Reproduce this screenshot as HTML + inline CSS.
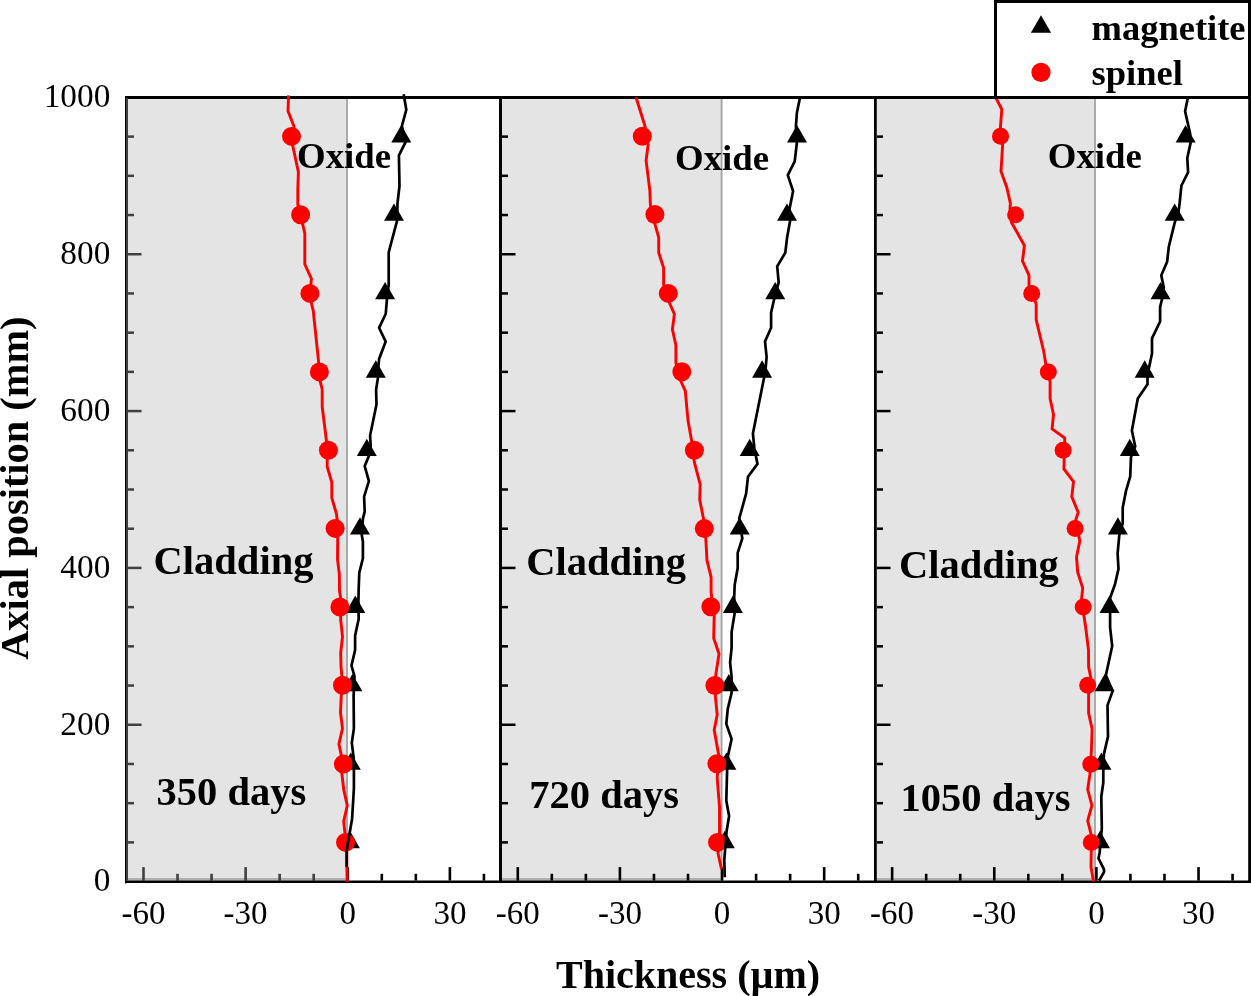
<!DOCTYPE html>
<html><head><meta charset="utf-8"><title>Chart</title>
<style>html,body{margin:0;padding:0;background:#fff;width:1251px;height:996px;overflow:hidden}
body{position:relative;font-family:"Liberation Serif",serif}</style></head>
<body>
<svg width="1251" height="996" viewBox="0 0 1251 996" style="position:absolute;left:0;top:0;will-change:transform">
<rect x="0" y="0" width="1251" height="996" fill="#fff"/>
<rect x="128.0" y="98" width="219.00" height="782.5" fill="#e4e4e4"/>
<rect x="128.0" y="878" width="219.00" height="2.6" fill="#b0b0b0"/>
<rect x="346.10" y="98" width="1.8" height="782.5" fill="#a2a2a2"/>
<rect x="502.0" y="98" width="219.60" height="782.5" fill="#e4e4e4"/>
<rect x="502.0" y="878" width="219.60" height="2.6" fill="#b0b0b0"/>
<rect x="720.70" y="98" width="1.8" height="782.5" fill="#a2a2a2"/>
<rect x="877.0" y="98" width="218.00" height="782.5" fill="#e4e4e4"/>
<rect x="877.0" y="878" width="218.00" height="2.6" fill="#b0b0b0"/>
<rect x="1094.10" y="98" width="1.8" height="782.5" fill="#a2a2a2"/>
<rect x="128.0" y="841.14" width="6.0" height="2.5" fill="#404040"/>
<rect x="128.0" y="801.93" width="6.0" height="2.5" fill="#404040"/>
<rect x="128.0" y="762.72" width="6.0" height="2.5" fill="#404040"/>
<rect x="128.0" y="723.51" width="13.5" height="2.5" fill="#404040"/>
<rect x="128.0" y="684.30" width="6.0" height="2.5" fill="#404040"/>
<rect x="128.0" y="645.09" width="6.0" height="2.5" fill="#404040"/>
<rect x="128.0" y="605.88" width="6.0" height="2.5" fill="#404040"/>
<rect x="128.0" y="566.67" width="13.5" height="2.5" fill="#404040"/>
<rect x="128.0" y="527.46" width="6.0" height="2.5" fill="#404040"/>
<rect x="128.0" y="488.25" width="6.0" height="2.5" fill="#404040"/>
<rect x="128.0" y="449.04" width="6.0" height="2.5" fill="#404040"/>
<rect x="128.0" y="409.83" width="13.5" height="2.5" fill="#404040"/>
<rect x="128.0" y="370.62" width="6.0" height="2.5" fill="#404040"/>
<rect x="128.0" y="331.41" width="6.0" height="2.5" fill="#404040"/>
<rect x="128.0" y="292.20" width="6.0" height="2.5" fill="#404040"/>
<rect x="128.0" y="252.99" width="13.5" height="2.5" fill="#404040"/>
<rect x="128.0" y="213.78" width="6.0" height="2.5" fill="#404040"/>
<rect x="128.0" y="174.57" width="6.0" height="2.5" fill="#404040"/>
<rect x="128.0" y="135.36" width="6.0" height="2.5" fill="#404040"/>
<rect x="142.19" y="867.10" width="2.6" height="13.5" fill="#404040"/>
<rect x="176.23" y="873.80" width="2.6" height="6.8" fill="#404040"/>
<rect x="210.28" y="873.80" width="2.6" height="6.8" fill="#404040"/>
<rect x="244.32" y="867.10" width="2.6" height="13.5" fill="#404040"/>
<rect x="278.36" y="873.80" width="2.6" height="6.8" fill="#404040"/>
<rect x="312.41" y="873.80" width="2.6" height="6.8" fill="#404040"/>
<rect x="346.45" y="867.10" width="2.6" height="13.5" fill="#000"/>
<rect x="380.49" y="873.80" width="2.6" height="6.8" fill="#000"/>
<rect x="414.54" y="873.80" width="2.6" height="6.8" fill="#000"/>
<rect x="448.58" y="867.10" width="2.6" height="13.5" fill="#000"/>
<rect x="482.62" y="873.80" width="2.6" height="6.8" fill="#000"/>
<rect x="502.0" y="841.14" width="6.0" height="2.5" fill="#000"/>
<rect x="502.0" y="801.93" width="6.0" height="2.5" fill="#000"/>
<rect x="502.0" y="762.72" width="6.0" height="2.5" fill="#000"/>
<rect x="502.0" y="723.51" width="13.5" height="2.5" fill="#000"/>
<rect x="502.0" y="684.30" width="6.0" height="2.5" fill="#000"/>
<rect x="502.0" y="645.09" width="6.0" height="2.5" fill="#000"/>
<rect x="502.0" y="605.88" width="6.0" height="2.5" fill="#000"/>
<rect x="502.0" y="566.67" width="13.5" height="2.5" fill="#000"/>
<rect x="502.0" y="527.46" width="6.0" height="2.5" fill="#000"/>
<rect x="502.0" y="488.25" width="6.0" height="2.5" fill="#000"/>
<rect x="502.0" y="449.04" width="6.0" height="2.5" fill="#000"/>
<rect x="502.0" y="409.83" width="13.5" height="2.5" fill="#000"/>
<rect x="502.0" y="370.62" width="6.0" height="2.5" fill="#000"/>
<rect x="502.0" y="331.41" width="6.0" height="2.5" fill="#000"/>
<rect x="502.0" y="292.20" width="6.0" height="2.5" fill="#000"/>
<rect x="502.0" y="252.99" width="13.5" height="2.5" fill="#000"/>
<rect x="502.0" y="213.78" width="6.0" height="2.5" fill="#000"/>
<rect x="502.0" y="174.57" width="6.0" height="2.5" fill="#000"/>
<rect x="502.0" y="135.36" width="6.0" height="2.5" fill="#000"/>
<rect x="516.49" y="867.10" width="2.6" height="13.5" fill="#000"/>
<rect x="550.53" y="873.80" width="2.6" height="6.8" fill="#000"/>
<rect x="584.58" y="873.80" width="2.6" height="6.8" fill="#000"/>
<rect x="618.62" y="867.10" width="2.6" height="13.5" fill="#000"/>
<rect x="652.66" y="873.80" width="2.6" height="6.8" fill="#000"/>
<rect x="686.71" y="873.80" width="2.6" height="6.8" fill="#000"/>
<rect x="720.75" y="867.10" width="2.6" height="13.5" fill="#000"/>
<rect x="754.79" y="873.80" width="2.6" height="6.8" fill="#000"/>
<rect x="788.84" y="873.80" width="2.6" height="6.8" fill="#000"/>
<rect x="822.88" y="867.10" width="2.6" height="13.5" fill="#000"/>
<rect x="856.92" y="873.80" width="2.6" height="6.8" fill="#000"/>
<rect x="877.0" y="841.14" width="6.0" height="2.5" fill="#000"/>
<rect x="877.0" y="801.93" width="6.0" height="2.5" fill="#000"/>
<rect x="877.0" y="762.72" width="6.0" height="2.5" fill="#000"/>
<rect x="877.0" y="723.51" width="13.5" height="2.5" fill="#000"/>
<rect x="877.0" y="684.30" width="6.0" height="2.5" fill="#000"/>
<rect x="877.0" y="645.09" width="6.0" height="2.5" fill="#000"/>
<rect x="877.0" y="605.88" width="6.0" height="2.5" fill="#000"/>
<rect x="877.0" y="566.67" width="13.5" height="2.5" fill="#000"/>
<rect x="877.0" y="527.46" width="6.0" height="2.5" fill="#000"/>
<rect x="877.0" y="488.25" width="6.0" height="2.5" fill="#000"/>
<rect x="877.0" y="449.04" width="6.0" height="2.5" fill="#000"/>
<rect x="877.0" y="409.83" width="13.5" height="2.5" fill="#000"/>
<rect x="877.0" y="370.62" width="6.0" height="2.5" fill="#000"/>
<rect x="877.0" y="331.41" width="6.0" height="2.5" fill="#000"/>
<rect x="877.0" y="292.20" width="6.0" height="2.5" fill="#000"/>
<rect x="877.0" y="252.99" width="13.5" height="2.5" fill="#000"/>
<rect x="877.0" y="213.78" width="6.0" height="2.5" fill="#000"/>
<rect x="877.0" y="174.57" width="6.0" height="2.5" fill="#000"/>
<rect x="877.0" y="135.36" width="6.0" height="2.5" fill="#000"/>
<rect x="890.84" y="867.10" width="2.6" height="13.5" fill="#000"/>
<rect x="924.88" y="873.80" width="2.6" height="6.8" fill="#000"/>
<rect x="958.93" y="873.80" width="2.6" height="6.8" fill="#000"/>
<rect x="992.97" y="867.10" width="2.6" height="13.5" fill="#000"/>
<rect x="1027.01" y="873.80" width="2.6" height="6.8" fill="#000"/>
<rect x="1061.06" y="873.80" width="2.6" height="6.8" fill="#000"/>
<rect x="1095.10" y="867.10" width="2.6" height="13.5" fill="#000"/>
<rect x="1129.14" y="873.80" width="2.6" height="6.8" fill="#000"/>
<rect x="1163.19" y="873.80" width="2.6" height="6.8" fill="#000"/>
<rect x="1197.23" y="867.10" width="2.6" height="13.5" fill="#000"/>
<rect x="1231.27" y="873.80" width="2.6" height="6.8" fill="#000"/>
<rect x="125" y="96" width="1126" height="3" fill="#000"/>
<rect x="125" y="880.5" width="1126" height="2.5" fill="#000"/>
<rect x="125" y="96" width="1.2" height="787.5" fill="#000"/>
<rect x="126" y="98" width="2" height="783" fill="#404040"/>
<rect x="499" y="96" width="3" height="787" fill="#000"/>
<rect x="874" y="96" width="2.8" height="787" fill="#000"/>
<rect x="1248.2" y="96" width="2.8" height="787" fill="#000"/>
<path d="M401.30,125.06L411.30,142.38L391.30,142.38Z" fill="#000"/>
<path d="M394.00,203.48L404.00,220.80L384.00,220.80Z" fill="#000"/>
<path d="M385.10,281.90L395.10,299.22L375.10,299.22Z" fill="#000"/>
<path d="M375.80,360.32L385.80,377.64L365.80,377.64Z" fill="#000"/>
<path d="M366.80,438.74L376.80,456.06L356.80,456.06Z" fill="#000"/>
<path d="M360.00,517.16L370.00,534.48L350.00,534.48Z" fill="#000"/>
<path d="M355.30,595.58L365.30,612.90L345.30,612.90Z" fill="#000"/>
<path d="M352.40,674.00L362.40,691.32L342.40,691.32Z" fill="#000"/>
<path d="M350.80,752.42L360.80,769.74L340.80,769.74Z" fill="#000"/>
<path d="M349.90,830.84L359.90,848.16L339.90,848.16Z" fill="#000"/>
<path d="M797.00,125.06L807.00,142.38L787.00,142.38Z" fill="#000"/>
<path d="M787.00,203.48L797.00,220.80L777.00,220.80Z" fill="#000"/>
<path d="M775.20,281.90L785.20,299.22L765.20,299.22Z" fill="#000"/>
<path d="M762.10,360.32L772.10,377.64L752.10,377.64Z" fill="#000"/>
<path d="M749.70,438.74L759.70,456.06L739.70,456.06Z" fill="#000"/>
<path d="M739.70,517.16L749.70,534.48L729.70,534.48Z" fill="#000"/>
<path d="M732.90,595.58L742.90,612.90L722.90,612.90Z" fill="#000"/>
<path d="M728.80,674.00L738.80,691.32L718.80,691.32Z" fill="#000"/>
<path d="M726.40,752.42L736.40,769.74L716.40,769.74Z" fill="#000"/>
<path d="M724.80,830.84L734.80,848.16L714.80,848.16Z" fill="#000"/>
<path d="M1185.60,125.06L1195.60,142.38L1175.60,142.38Z" fill="#000"/>
<path d="M1174.70,203.48L1184.70,220.80L1164.70,220.80Z" fill="#000"/>
<path d="M1160.50,281.90L1170.50,299.22L1150.50,299.22Z" fill="#000"/>
<path d="M1144.70,360.32L1154.70,377.64L1134.70,377.64Z" fill="#000"/>
<path d="M1129.80,438.74L1139.80,456.06L1119.80,456.06Z" fill="#000"/>
<path d="M1117.90,517.16L1127.90,534.48L1107.90,534.48Z" fill="#000"/>
<path d="M1109.50,595.58L1119.50,612.90L1099.50,612.90Z" fill="#000"/>
<path d="M1104.70,674.00L1114.70,691.32L1094.70,691.32Z" fill="#000"/>
<path d="M1101.40,752.42L1111.40,769.74L1091.40,769.74Z" fill="#000"/>
<path d="M1100.00,830.84L1110.00,848.16L1090.00,848.16Z" fill="#000"/>
<polyline points="288.6,95.4 288.0,111.0 294.0,126.6 292.8,145.8 298.4,172.1 297.8,190.0 297.8,204.4 304.8,233.2 304.8,264.3 311.4,278.7 310.8,284.7 311.4,303.2 313.2,310.4 318.6,361.9 320.1,381.1 322.2,389.5 322.2,406.8 326.4,440.4 327.2,459.5 327.2,466.7 331.8,482.3 331.8,497.8 336.5,514.0 337.1,519.4 337.7,538.0 337.5,559.5 339.3,573.9 339.5,590.7 340.7,598.5 340.7,620.0 342.5,636.8 340.7,652.4 341.0,666.7 341.9,676.3 341.3,694.8 340.5,712.8 342.5,728.4 338.9,744.0 341.3,755.3 341.9,773.9 343.7,789.5 347.3,805.6 343.7,821.2 344.9,833.2 345.6,842.4 346.8,852.0 346.8,866.7 347.2,881.7" fill="none" stroke="#f00" stroke-width="2.9" stroke-linejoin="miter" stroke-miterlimit="3"/>
<circle cx="291.5" cy="136.4" r="9.5" fill="#f00"/>
<circle cx="300.6" cy="214.8" r="9.5" fill="#f00"/>
<circle cx="309.9" cy="293.4" r="9.5" fill="#f00"/>
<circle cx="319.4" cy="371.9" r="9.5" fill="#f00"/>
<circle cx="328.4" cy="450.3" r="9.5" fill="#f00"/>
<circle cx="335.1" cy="528.4" r="9.5" fill="#f00"/>
<circle cx="339.9" cy="607" r="9.5" fill="#f00"/>
<circle cx="342.5" cy="685.3" r="9.5" fill="#f00"/>
<circle cx="343.4" cy="764.1" r="9.5" fill="#f00"/>
<circle cx="345.5" cy="842.4" r="9.5" fill="#f00"/>
<polyline points="636.0,97.3 645.1,126.5 648.1,144.7 646.1,160.6 649.9,191.0 650.4,205.4 654.9,223.8 658.7,237.5 658.7,252.7 663.6,267.8 663.6,284.6 669.4,302.8 674.4,314.2 672.4,329.4 675.9,345.3 675.9,362.9 680.8,381.1 685.3,391.0 688.0,420.6 691.7,441.1 694.4,462.4 700.2,484.4 699.7,499.7 703.5,518.7 705.8,538.5 707.0,560.5 711.1,577.2 711.1,592.4 714.2,616.1 713.7,638.1 719.0,654.0 715.7,675.3 715.4,696.6 717.2,714.8 714.2,730.0 718.7,755.2 717.2,778.0 719.5,806.8 719.5,833.4 718.0,853.2 721.5,869.1" fill="none" stroke="#f00" stroke-width="2.9" stroke-linejoin="miter" stroke-miterlimit="3"/>
<circle cx="642.3" cy="136.3" r="9.5" fill="#f00"/>
<circle cx="654.9" cy="214.5" r="9.5" fill="#f00"/>
<circle cx="668.3" cy="293.4" r="9.5" fill="#f00"/>
<circle cx="681.8" cy="371.7" r="9.5" fill="#f00"/>
<circle cx="694.4" cy="450.2" r="9.5" fill="#f00"/>
<circle cx="704.3" cy="528.6" r="9.5" fill="#f00"/>
<circle cx="710.8" cy="606.8" r="9.5" fill="#f00"/>
<circle cx="714.9" cy="685.5" r="9.5" fill="#f00"/>
<circle cx="716.9" cy="763.8" r="9.5" fill="#f00"/>
<circle cx="717.5" cy="842.4" r="9.5" fill="#f00"/>
<polyline points="995.1,96.4 1001.8,109.3 1000.4,127.8 1002.6,145.4 1001.0,171.4 1006.8,187.4 1010.4,203.4 1010.0,208.3 1011.4,222.3 1024.4,245.5 1022.5,261.1 1029.0,275.3 1029.0,286.2 1036.2,303.9 1036.2,319.8 1043.8,351.7 1045.8,364.3 1050.1,381.8 1050.1,398.5 1053.5,414.5 1052.1,428.8 1064.7,438.0 1064.7,441.0 1063.9,469.0 1073.5,481.6 1071.8,496.7 1078.2,512.4 1075.7,520.1 1079.8,541.1 1076.5,557.0 1077.7,572.1 1082.7,588.1 1081.5,599.8 1085.7,627.5 1088.5,650.0 1088.6,666.8 1090.8,677.7 1088.6,695.3 1088.6,713.0 1092.1,728.9 1091.6,744.0 1090.8,764.2 1089.9,774.2 1087.7,789.4 1091.9,805.4 1087.7,820.8 1091.3,835.2 1091.3,850.7 1091.0,867.2 1093.5,881.6" fill="none" stroke="#f00" stroke-width="2.9" stroke-linejoin="miter" stroke-miterlimit="3"/>
<circle cx="1000.5" cy="136.3" r="8.5" fill="#f00"/>
<circle cx="1015.6" cy="214.7" r="8.5" fill="#f00"/>
<circle cx="1031.7" cy="293.5" r="8.5" fill="#f00"/>
<circle cx="1048.3" cy="371.9" r="8.5" fill="#f00"/>
<circle cx="1063.1" cy="450.2" r="8.5" fill="#f00"/>
<circle cx="1075.1" cy="528.5" r="8.5" fill="#f00"/>
<circle cx="1083.2" cy="607" r="8.5" fill="#f00"/>
<circle cx="1087.7" cy="685.3" r="8.5" fill="#f00"/>
<circle cx="1090.8" cy="764.2" r="8.5" fill="#f00"/>
<circle cx="1091.3" cy="842.4" r="8.5" fill="#f00"/>
<polyline points="403.7,94.2 406.3,109.8 401.9,126.0 405.5,142.2 398.9,155.3 399.5,185.9 397.5,203.2 397.1,220.6 388.7,252.4 388.7,284.7 386.9,299.6 385.7,314.0 379.1,327.8 385.7,341.6 379.1,358.9 378.5,365.5 377.9,378.1 376.1,389.5 376.5,404.4 370.1,435.6 370.7,446.4 368.9,456.0 364.7,466.1 368.9,481.1 364.1,496.7 364.7,511.6 362.9,518.8 361.7,534.4 362.9,541.6 362.9,558.3 359.3,572.7 358.7,588.3 358.4,602.0 358.7,618.8 355.1,635.6 355.1,650.0 351.5,665.5 354.5,676.3 353.6,696.0 353.9,728.4 351.8,742.8 353.7,758.3 353.9,771.5 353.9,788.3 352.1,818.8 346.7,850.0 346.7,866.7" fill="none" stroke="#000" stroke-width="2.7" stroke-linejoin="miter" stroke-miterlimit="3"/>
<polyline points="800.0,97.6 796.9,112.8 795.9,126.5 796.9,142.4 794.7,161.4 787.8,175.1 793.1,191.0 789.3,210.0 790.1,221.0 787.1,237.5 785.3,252.7 777.2,266.3 778.7,282.3 774.2,299.0 771.1,312.6 771.1,327.8 765.0,341.5 766.6,356.8 765.8,366.7 764.0,378.1 752.9,433.5 754.4,448.7 757.5,463.9 748.0,476.8 746.1,493.7 739.2,518.7 742.3,538.5 737.7,552.9 737.7,568.1 734.7,584.8 734.2,597.0 734.7,613.0 731.6,632.0 731.6,648.0 730.1,662.4 731.6,676.8 731.6,692.8 727.8,708.7 726.3,723.9 731.6,739.1 728.1,755.2 727.1,770.4 726.3,800.8 729.1,815.9 726.5,832.0 724.3,860.0 724.8,877.3" fill="none" stroke="#000" stroke-width="2.7" stroke-linejoin="miter" stroke-miterlimit="3"/>
<polyline points="1188.3,95.8 1185.1,111.3 1190.1,133.4 1190.8,141.8 1187.3,158.0 1188.1,172.3 1181.4,185.7 1179.7,202.5 1178.5,212.0 1174.7,222.6 1168.8,246.8 1167.1,261.9 1161.3,275.3 1163.8,287.9 1162.1,298.8 1160.1,307.2 1160.1,321.5 1152.0,338.3 1152.0,353.4 1148.7,369.3 1147.5,378.4 1147.5,384.3 1137.8,398.5 1131.9,430.4 1135.2,446.4 1131.0,457.3 1130.2,476.6 1126.0,490.9 1122.7,507.7 1122.7,523.4 1119.3,535.2 1117.6,553.6 1118.5,568.8 1115.1,583.9 1110.1,598.1 1110.1,612.4 1110.1,627.5 1112.2,646.0 1105.9,675.2 1112.6,691.1 1107.5,705.4 1108.0,736.5 1103.9,754.1 1103.3,770.9 1103.3,782.6 1101.3,796.6 1101.8,828.6 1099.6,852.9 1098.5,858.4 1104.0,869.4 1104.0,872.2 1099.1,880.5" fill="none" stroke="#000" stroke-width="2.7" stroke-linejoin="miter" stroke-miterlimit="3"/>
<text x="110.3" y="891.4" font-family="Liberation Serif, serif" font-size="33.3" text-anchor="end">0</text>
<text x="110.3" y="734.6" font-family="Liberation Serif, serif" font-size="33.3" text-anchor="end">200</text>
<text x="110.3" y="577.7" font-family="Liberation Serif, serif" font-size="33.3" text-anchor="end">400</text>
<text x="110.3" y="420.9" font-family="Liberation Serif, serif" font-size="33.3" text-anchor="end">600</text>
<text x="110.3" y="264.0" font-family="Liberation Serif, serif" font-size="33.3" text-anchor="end">800</text>
<text x="110.3" y="107.2" font-family="Liberation Serif, serif" font-size="33.3" text-anchor="end">1000</text>
<text x="143.5" y="923.6" font-family="Liberation Serif, serif" font-size="33" text-anchor="middle">-60</text>
<text x="245.6" y="923.6" font-family="Liberation Serif, serif" font-size="33" text-anchor="middle">-30</text>
<text x="347.8" y="923.6" font-family="Liberation Serif, serif" font-size="33" text-anchor="middle">0</text>
<text x="449.9" y="923.6" font-family="Liberation Serif, serif" font-size="33" text-anchor="middle">30</text>
<text x="517.8" y="923.6" font-family="Liberation Serif, serif" font-size="33" text-anchor="middle">-60</text>
<text x="619.9" y="923.6" font-family="Liberation Serif, serif" font-size="33" text-anchor="middle">-30</text>
<text x="722.0" y="923.6" font-family="Liberation Serif, serif" font-size="33" text-anchor="middle">0</text>
<text x="824.2" y="923.6" font-family="Liberation Serif, serif" font-size="33" text-anchor="middle">30</text>
<text x="892.1" y="923.6" font-family="Liberation Serif, serif" font-size="33" text-anchor="middle">-60</text>
<text x="994.3" y="923.6" font-family="Liberation Serif, serif" font-size="33" text-anchor="middle">-30</text>
<text x="1096.4" y="923.6" font-family="Liberation Serif, serif" font-size="33" text-anchor="middle">0</text>
<text x="1198.5" y="923.6" font-family="Liberation Serif, serif" font-size="33" text-anchor="middle">30</text>
<text x="297.1" y="168.0" font-family="Liberation Serif, serif" font-weight="bold" font-size="36.8">Oxide</text>
<text x="675.1" y="170.4" font-family="Liberation Serif, serif" font-weight="bold" font-size="36.8">Oxide</text>
<text x="1047.8" y="168.2" font-family="Liberation Serif, serif" font-weight="bold" font-size="36.8">Oxide</text>
<text x="153.6" y="574.0" font-family="Liberation Serif, serif" font-weight="bold" font-size="40.5">Cladding</text>
<text x="526.2" y="575.3" font-family="Liberation Serif, serif" font-weight="bold" font-size="40.5">Cladding</text>
<text x="899.0" y="578.3" font-family="Liberation Serif, serif" font-weight="bold" font-size="40.5">Cladding</text>
<text x="156.6" y="804.9" font-family="Liberation Serif, serif" font-weight="bold" font-size="40.5">350 days</text>
<text x="529.3" y="807.5" font-family="Liberation Serif, serif" font-weight="bold" font-size="40.5">720 days</text>
<text x="900.6" y="811.4" font-family="Liberation Serif, serif" font-weight="bold" font-size="40.5">1050 days</text>
<text x="556" y="988" font-family="Liberation Serif, serif" font-weight="bold" font-size="40">Thickness (µm)</text>
<text transform="translate(27.8,659.8) rotate(-90)" x="0" y="0" font-family="Liberation Serif, serif" font-weight="bold" font-size="40.4">Axial position (mm)</text>
<rect x="995.5" y="1.5" width="254" height="96" fill="#fff" stroke="#000" stroke-width="3"/>
<path d="M1041.00,15.27L1051.10,32.76L1030.90,32.76Z" fill="#000"/>
<circle cx="1041" cy="72.4" r="9.6" fill="#f00"/>
<text x="1091.5" y="40" font-family="Liberation Serif, serif" font-weight="bold" font-size="36.5">magnetite</text>
<text x="1091.5" y="85.2" font-family="Liberation Serif, serif" font-weight="bold" font-size="36.5">spinel</text>
</svg>
</body></html>
